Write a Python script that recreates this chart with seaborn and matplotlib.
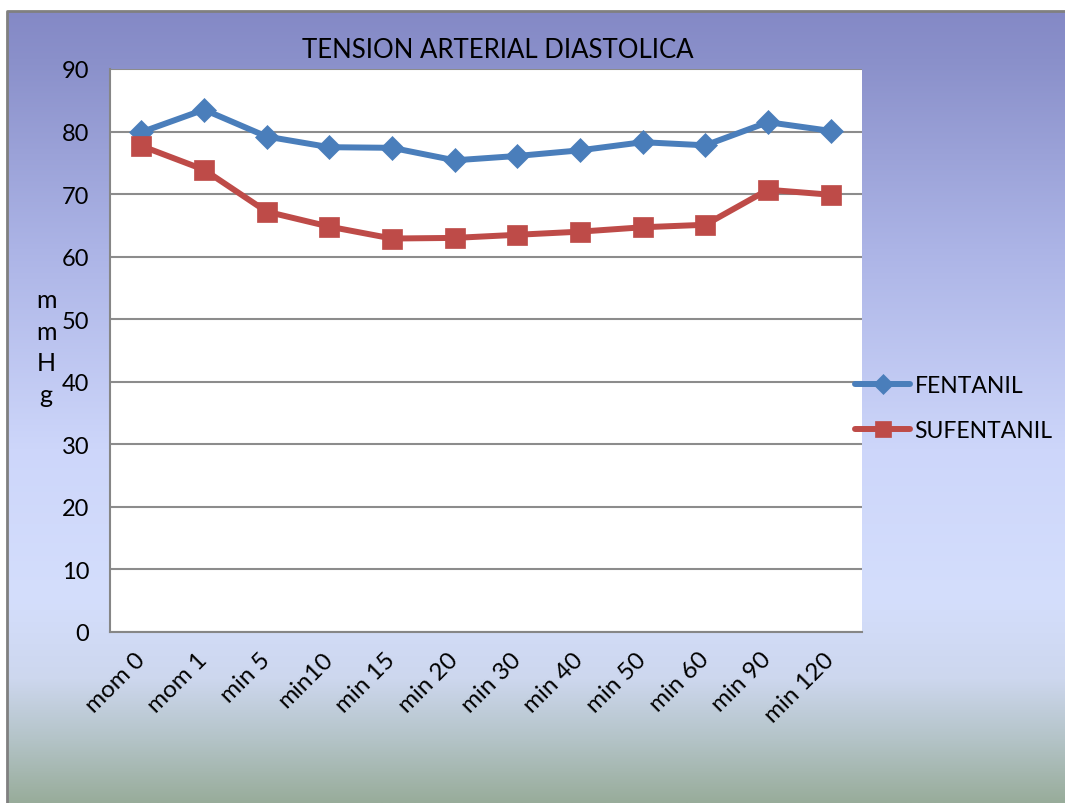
import numpy as np
import pandas as pd
import matplotlib
matplotlib.use("Agg")
import matplotlib.pyplot as plt
import seaborn as sns

categories = ["mom 0", "mom 1", "min 5", "min10", "min 15", "min 20", "min 30",
              "min 40", "min 50", "min 60", "min 90", "min 120"]
fentanil = [79.9, 83.5, 79.2, 77.5, 77.4, 75.4, 76.1, 77.0, 78.3, 77.8, 81.5, 80.1]
sufentanil = [77.7, 73.9, 67.2, 64.8, 62.9, 63.0, 63.5, 64.0, 64.7, 65.1, 70.7, 69.9]
series_names = ["FENTANIL", "SUFENTANIL"]
y_ticks = [0, 10, 20, 30, 40, 50, 60, 70, 80, 90]
title_text = "TENSION ARTERIAL DIASTOLICA"
ylabel_text = "m\nm\nH\ng"

sns.set_theme(style="white")
plt.rcParams["font.family"] = ["Lato", "DejaVu Sans"]

W, H = 1065, 804
fig = plt.figure(figsize=(W / 100, H / 100), dpi=100)

# background gradient (chart area)
bg = fig.add_axes([0, 0, 1, 1], zorder=-10)
bg.set_xlim(0, W)
bg.set_ylim(H, 0)
bg.axis("off")
stops_y = np.array([12, 60, 250, 450, 600, 680, 740, 804])
stops_c = np.array([
    [132, 137, 198],
    [138, 144, 202],
    [172, 180, 230],
    [205, 214, 250],
    [212, 222, 252],
    [205, 215, 238],
    [180, 196, 200],
    [152, 172, 154],
]) / 255.0
ys = np.arange(12, H + 1)
grad = np.stack([np.interp(ys, stops_y, stops_c[:, k]) for k in range(3)], axis=-1)
img = np.repeat(grad[:, None, :], 2, axis=1)
bg.imshow(img, extent=[7, W, H, 12], aspect="auto", interpolation="bilinear")
bg.plot([7, 7, W], [H, 12, 12], color="#808080", lw=2)

# plot area
left, right, top, bottom = 110, 862, 70, 633
ax = fig.add_axes([left / W, (H - bottom) / H, (right - left) / W, (bottom - top) / H])
ax.set_facecolor("white")

n = len(categories)
df = pd.DataFrame({
    "pos": list(range(n)) * 2,
    "value": fentanil + sufentanil,
    "series": [series_names[0]] * n + [series_names[1]] * n,
})

palette = {"FENTANIL": "#4a7ebb", "SUFENTANIL": "#be4b48"}
sns.lineplot(data=df, x="pos", y="value", hue="series", style="series",
             markers={"FENTANIL": "D", "SUFENTANIL": "s"}, dashes=False,
             palette=palette, linewidth=4.3, markersize=14, markeredgewidth=0.5,
             ax=ax, legend=False, zorder=5)
for ln, nm in zip(ax.lines, series_names):
    ln.set_markeredgecolor(palette[nm])
    if nm == "FENTANIL":
        ln.set_markersize(12.5)

ax.set_xlim(-0.5, n - 0.5)
ax.set_ylim(0, 90)
ax.set_yticks(y_ticks)
ax.set_yticklabels([str(v) for v in y_ticks], fontsize=17, color="black")
ax.yaxis.grid(True, color="#8c8c8c", linewidth=1.5)
ax.set_axisbelow(True)

ax.set_xticks(range(n))
ax.set_xticklabels(categories, fontsize=17.5, rotation=45, ha="right",
                   va="center", rotation_mode="anchor", color="black")
ax.set_xticks(np.arange(-0.5, n, 1.0), minor=True)
ax.tick_params(axis="x", which="major", length=0, pad=17)
ax.tick_params(axis="x", which="minor", length=7, width=1.5, color="#868686", direction="out")
ax.tick_params(axis="y", which="major", length=7, width=1.5, color="#868686", direction="out", pad=8)

for s in ["top", "right"]:
    ax.spines[s].set_visible(False)
for s in ["left", "bottom"]:
    ax.spines[s].set_color("#868686")
    ax.spines[s].set_linewidth(1.5)

ax.set_xlabel("")
ax.set_ylabel("")

fig.text(498 / W, (H - 50) / H, title_text, fontsize=18.5, ha="center", va="center", color="black")
fig.text(46 / W, (H - 348) / H, ylabel_text, fontsize=18, ha="center", va="center",
         linespacing=1.45, color="black")

leg = ax.legend(handles=ax.lines[:2], labels=series_names, loc="center left",
                bbox_to_anchor=(855 / W, (H - 409) / H), bbox_transform=fig.transFigure,
                frameon=False, fontsize=16.5, handlelength=2.4, handletextpad=0.2,
                labelspacing=1.05, borderpad=0, borderaxespad=0, markerscale=0.8)
for t in leg.get_texts():
    t.set_color("black")

fig.savefig("out.png", dpi=100)
